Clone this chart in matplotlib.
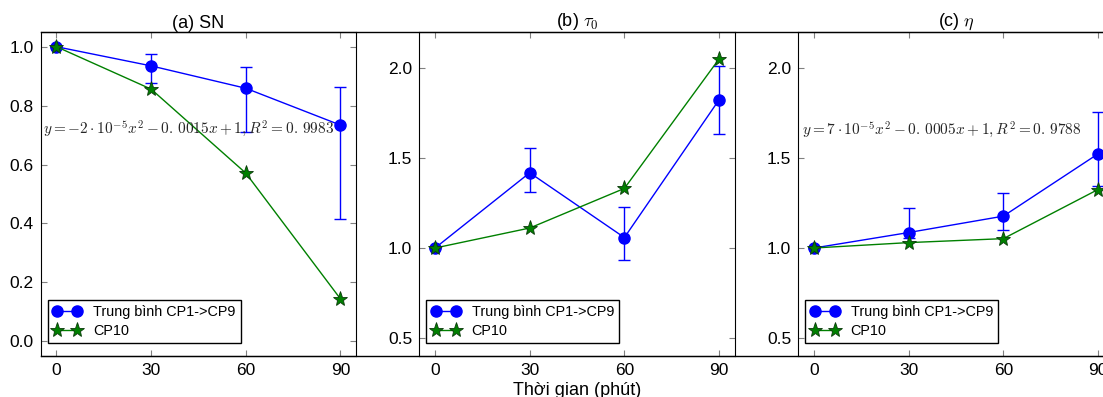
import matplotlib
matplotlib.use("Agg")
import matplotlib.pyplot as plt
from matplotlib.lines import Line2D

# du lieu doc tu hinh
t = [0, 30, 60, 90]

sn_tb = [1.0, 0.935, 0.859, 0.734]
sn_err_duoi = [0.0, 0.059, 0.15, 0.318]
sn_err_tren = [0.0, 0.042, 0.071, 0.128]
sn_cp10 = [1.0, 0.856, 0.571, 0.144]

tau_tb = [1.0, 1.418, 1.058, 1.823]
tau_err_duoi = [0.0, 0.106, 0.123, 0.19]
tau_err_tren = [0.0, 0.135, 0.171, 0.19]
tau_cp10 = [1.0, 1.111, 1.331, 2.05]

eta_tb = [1.0, 1.086, 1.177, 1.523]
eta_err_duoi = [0.0, 0.03, 0.078, 0.18]
eta_err_tren = [0.0, 0.134, 0.13, 0.235]
eta_cp10 = [1.0, 1.03, 1.052, 1.325]

titles = ["(a) SN", r"(b) $\tau_0$", r"(c) $\eta$"]
pt_a = r"$y=-2\cdot10^{-5}x^2-0.\,0015x+1, R^2=0.\,9983$"
pt_c = r"$y=7\cdot10^{-5}x^2-0.\,0005x+1, R^2=0.\,9788$"

plt.rcParams['font.family'] = ['Liberation Sans', 'DejaVu Sans']
plt.rcParams['mathtext.fontset'] = 'cm'
plt.rcParams['xtick.direction'] = 'in'
plt.rcParams['ytick.direction'] = 'in'
plt.rcParams['xtick.top'] = True
plt.rcParams['ytick.right'] = True
plt.rcParams['xtick.major.size'] = 4
plt.rcParams['ytick.major.size'] = 4
plt.rcParams['xtick.color'] = '0.5'
plt.rcParams['ytick.color'] = '0.5'
plt.rcParams['xtick.labelcolor'] = 'k'
plt.rcParams['ytick.labelcolor'] = 'k'

fig = plt.figure(figsize=(11.03, 3.97), dpi=100)
W, H = 1103., 397.
top, bot = 32., 356.
lefts = [40.7, 419.3, 798.3]
aw = 315.5

data = [(sn_tb, sn_err_duoi, sn_err_tren, sn_cp10),
        (tau_tb, tau_err_duoi, tau_err_tren, tau_cp10),
        (eta_tb, eta_err_duoi, eta_err_tren, eta_cp10)]

axes = []
for i in range(3):
    ax = fig.add_axes([lefts[i] / W, (H - bot) / H, aw / W, (bot - top) / H])
    tb, ed, et, cp = data[i]
    ax.plot(t, tb, 'o-', color='b', lw=1, markersize=8, markeredgecolor='b',
            label=u"Trung bình CP1->CP9")
    ax.errorbar(t, tb, yerr=[ed, et], fmt='none', ecolor='b', elinewidth=1,
                capsize=4, capthick=1)
    ax.plot(t, cp, '*-', color='g', lw=1, markersize=11, markeredgecolor='#0a3a0a',
            markeredgewidth=0.6, label="CP10")
    ax.set_xlim(-5, 95)
    ax.set_xticks(t)
    ax.set_title(titles[i], fontsize=13, pad=3)
    ax.tick_params(labelsize=12.5, pad=5)
    ax.legend(loc='lower left', bbox_to_anchor=(0.022, 0.04), borderaxespad=0,
              numpoints=2, fancybox=False, edgecolor='k', framealpha=1,
              fontsize=10.4, handlelength=2, borderpad=0.35, labelspacing=0.35,
              handletextpad=0.8)
    axes.append(ax)

axes[0].set_ylim(-0.05, 1.05)
axes[0].set_yticks([0.0, 0.2, 0.4, 0.6, 0.8, 1.0])
for ax in axes[1:]:
    ax.set_ylim(0.4, 2.2)
    ax.set_yticks([0.5, 1.0, 1.5, 2.0])

axes[0].text(-4.2, 0.721, pt_a, fontsize=11, color='0.15', va='center', ha='left')
axes[2].text(-3.9, 1.656, pt_c, fontsize=11, color='0.15', va='center', ha='left')

axes[1].set_xlabel(u"Thời gian (phút)", fontsize=13, labelpad=3)

# duong vien tren/duoi noi cac o
for y in [top, bot]:
    fig.add_artist(Line2D([lefts[0] / W, 1.0], [(H - y) / H, (H - y) / H],
                          transform=fig.transFigure, color='k', lw=1))

fig.savefig("out.png", dpi=100, facecolor='white')
